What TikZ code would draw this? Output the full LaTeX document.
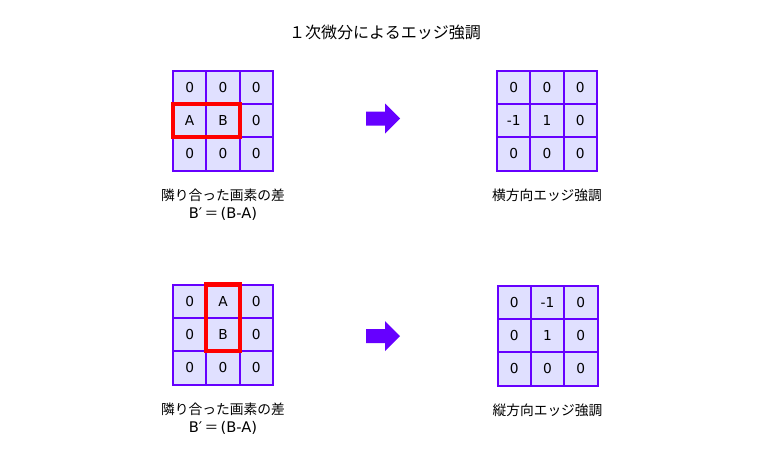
\documentclass[tikz,border=0pt]{standalone}
\usepackage{fontspec}
\setmainfont{Noto Sans CJK JP}
\newfontfamily\latinfont{DejaVu Sans}
\usetikzlibrary{positioning,matrix}
\definecolor{gridpurple}{RGB}{102,0,255}
\definecolor{cellfill}{RGB}{224,224,255}
\definecolor{markred}{RGB}{255,0,0}

\begin{document}
\begin{tikzpicture}[x=0.75pt,y=-0.75pt,
        cellnode/.style={rectangle, draw=gridpurple, fill=cellfill, line width=1.5pt, minimum size=25pt, inner sep=0pt, outer sep=0pt, anchor=center, font=\latinfont\fontsize{10.3}{12}\selectfont},
        gridmatrix/.style={matrix of nodes, nodes={cellnode}, column sep=-1.5pt, row sep=-1.5pt, inner sep=0pt},
        markframe/.style={draw=markred, line width=3.2pt},
        labelnode/.style={inner sep=0pt, align=center, font=\fontsize{10.3}{13.5}\selectfont},
        arrowshape/.style={fill=gridpurple},
        node distance=13pt
      ]
      \useasboundingbox (0,0) rectangle (768,450);

      % Title
      \node (title) at (385,32) [font=\fontsize{12}{14}\selectfont] {１次微分によるエッジ強調};

      % Grids
      \matrix (diffrow) [gridmatrix] at (223,120.5) {
        0 & 0 & 0 \\
        A & B & 0 \\
        0 & 0 & 0 \\
      };
      \matrix (edgerow) [gridmatrix] at (547,120.5) {
        0 & 0 & 0 \\
        -1 & 1 & 0 \\
        0 & 0 & 0 \\
      };
      \matrix (diffcol) [gridmatrix] at (223,334.5) {
        0 & A & 0 \\
        0 & B & 0 \\
        0 & 0 & 0 \\
      };
      \matrix (edgecol) [gridmatrix] at (547.5,335.5) {
        0 & -1 & 0 \\
        0 & 1 & 0 \\
        0 & 0 & 0 \\
      };

      % Labels
      \node[labelnode] (diffrow_label) [below=of diffrow] {隣り合った画素の差\\{\latinfont\fontsize{11}{13.5}\selectfont B′}\,＝\,{\latinfont\fontsize{11}{13.5}\selectfont (B-A)}};
      \node[labelnode] (edgerow_label) [below=of edgerow] {横方向エッジ強調};
      \node[labelnode] (diffcol_label) [below=of diffcol] {隣り合った画素の差\\{\latinfont\fontsize{11}{13.5}\selectfont B′}\,＝\,{\latinfont\fontsize{11}{13.5}\selectfont (B-A)}};
      \node[labelnode] (edgecol_label) [below=of edgecol] {縦方向エッジ強調};

      % Red frames
      \draw[markframe] (diffrow-2-1.north west) rectangle (diffrow-2-2.south east);
      \draw[markframe] (diffcol-1-2.north west) rectangle (diffcol-2-2.south east);

      % Arrows
      \fill[arrowshape, shift={(366,118.5)}] (0,-7) -- (19,-7) -- (19,-15) -- (34,0) -- (19,15) -- (19,7) -- (0,7) -- cycle;
      \fill[arrowshape, shift={(366,336)}] (0,-7) -- (19,-7) -- (19,-15) -- (34,0) -- (19,15) -- (19,7) -- (0,7) -- cycle;
    \end{tikzpicture}
\end{document}
